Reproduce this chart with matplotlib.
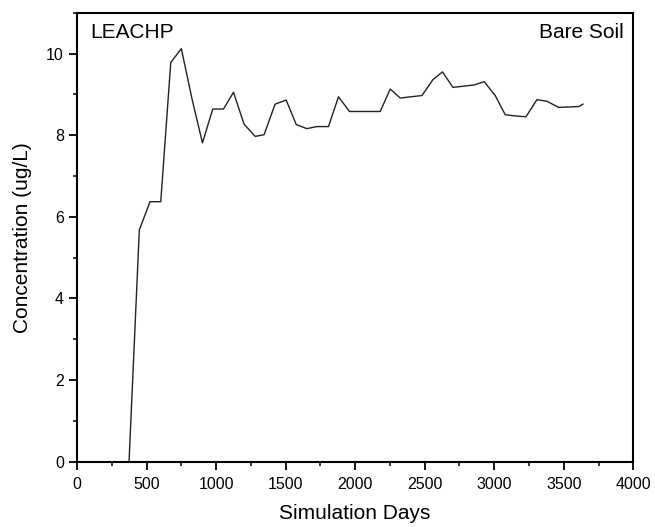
import matplotlib
matplotlib.use("Agg")
import matplotlib.pyplot as plt
from matplotlib.ticker import MultipleLocator

## data
days = [374, 448, 525, 602, 674, 750, 826, 902, 976, 1053, 1125, 1201, 1281, 1345,
        1424, 1504, 1576, 1652, 1724, 1808, 1880, 1959, 2035, 2110, 2180, 2252, 2324,
        2400, 2480, 2559, 2628, 2703, 2780, 2856, 2928, 3007, 3079, 3155, 3228, 3307,
        3379, 3463, 3535, 3607, 3638]
conc = [0, 5.68, 6.37, 6.37, 9.78, 10.12, 8.9, 7.81, 8.64, 8.64, 9.05, 8.27, 7.97, 8.01,
        8.76, 8.86, 8.26, 8.16, 8.21, 8.21, 8.94, 8.58, 8.58, 8.58, 8.58, 9.13, 8.91,
        8.94, 8.97, 9.36, 9.55, 9.17, 9.20, 9.23, 9.31, 8.97, 8.50, 8.47, 8.45, 8.87,
        8.83, 8.68, 8.69, 8.70, 8.76]
model_label = "LEACHP"
scenario_label = "Bare Soil"

plt.rcParams['font.family'] = ['Liberation Sans', 'DejaVu Sans']

fig = plt.figure(figsize=(6.55, 5.27), dpi=100)
ax = fig.add_axes([0.1176, 0.1239, 0.8493, 0.852])
ax.plot(days, conc, color="#222222", lw=1.0)

ax.set_xlim(0, 4000)
ax.set_ylim(0, 11)
ax.xaxis.set_major_locator(MultipleLocator(500))
ax.xaxis.set_minor_locator(MultipleLocator(250))
ax.yaxis.set_major_locator(MultipleLocator(2))
ax.yaxis.set_minor_locator(MultipleLocator(1))
ax.tick_params(which="major", length=6, width=1.3, labelsize=11.5, direction="out")
ax.tick_params(axis="x", which="major", pad=5)
ax.tick_params(which="minor", length=3, width=1.1, direction="out")
for s in ax.spines.values():
    s.set_linewidth(1.5)

ax.set_xlabel("Simulation Days", fontsize=15, labelpad=9)
ax.set_ylabel("Concentration (ug/L)", fontsize=15, labelpad=10)

## corner labels
ax.text(0.023, 0.976, model_label, transform=ax.transAxes, fontsize=15,
        ha="left", va="top")
ax.text(0.982, 0.976, scenario_label, transform=ax.transAxes, fontsize=15,
        ha="right", va="top")

fig.savefig("out.png", dpi=100)
